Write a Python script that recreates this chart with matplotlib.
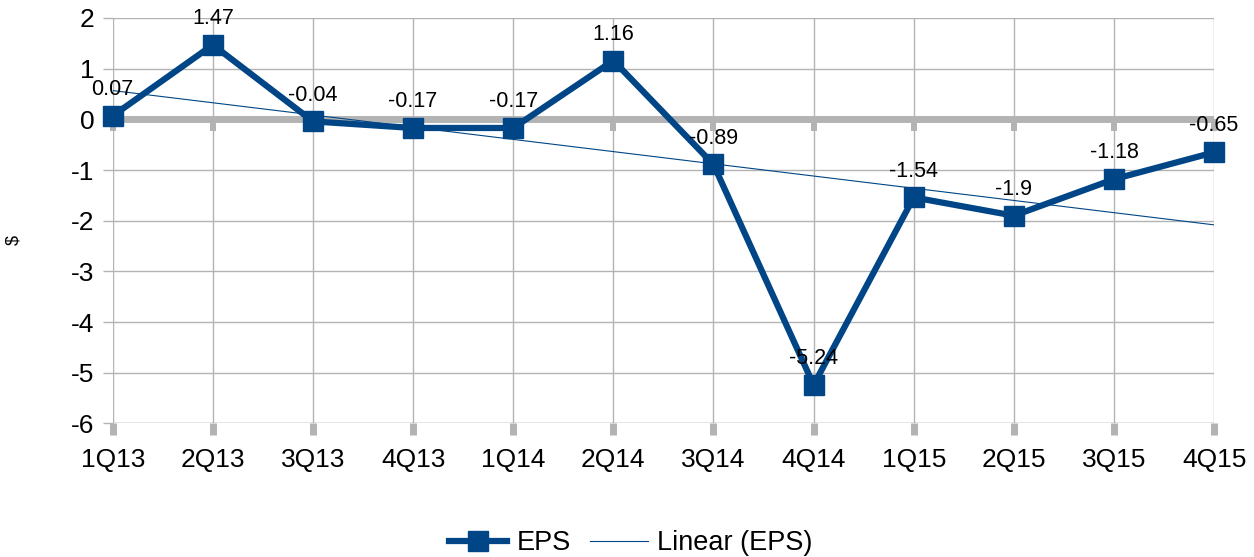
import numpy as np
import matplotlib
matplotlib.use("Agg")
import matplotlib.pyplot as plt
from matplotlib.lines import Line2D

quarters = ["1Q13", "2Q13", "3Q13", "4Q13", "1Q14", "2Q14",
            "3Q14", "4Q14", "1Q15", "2Q15", "3Q15", "4Q15"]
eps = [0.07, 1.47, -0.04, -0.17, -0.17, 1.16,
       -0.89, -5.24, -1.54, -1.9, -1.18, -0.65]
eps_labels = ["0.07", "1.47", "-0.04", "-0.17", "-0.17", "1.16",
              "-0.89", "-5.24", "-1.54", "-1.9", "-1.18", "-0.65"]
y_ticks = [2, 1, 0, -1, -2, -3, -4, -5, -6]

blue = "#004586"
grid_gray = "#b3b3b3"

plt.rcParams["font.family"] = ["Liberation Sans", "DejaVu Sans"]
plt.rcParams["axes.unicode_minus"] = False

fig = plt.figure(figsize=(12.54, 5.57), dpi=100)
ax = fig.add_axes([0.0899, 0.2397, 0.8783, 0.7280])

x = np.arange(len(quarters))
ax.set_xlim(0, len(quarters) - 1)
ax.set_ylim(-6, 2)
ax.set_xticks(x)
ax.set_xticklabels(quarters)
ax.set_yticks(y_ticks)

for s in ax.spines.values():
    s.set_visible(False)
ax.grid(True, color=grid_gray, linewidth=1)
ax.set_axisbelow(True)
ax.axhline(-6, color=grid_gray, linewidth=1, zorder=1)
ax.tick_params(axis="x", length=8.5, width=5, color=grid_gray, labelsize=19, pad=9)
ax.tick_params(axis="y", length=7.2, width=1, color=grid_gray, labelsize=19, pad=6)

# zero axis line with its own ticks below
ax.axhline(0, color=grid_gray, linewidth=5, zorder=2)
tick_marker = [(-0.29, 0), (0.29, 0), (0.29, -1), (-0.29, -1), (-0.29, 0)]
ax.plot(x, np.zeros(len(x)), linestyle="none", marker=tick_marker,
        markersize=17.3, markerfacecolor=grid_gray, markeredgewidth=0,
        zorder=2, clip_on=False)

# linear trend
slope, intercept = np.polyfit(x, eps, 1)
ax.plot(x, slope * x + intercept, color=blue, linewidth=0.8, zorder=3)

# EPS series
ax.plot(x, eps, color=blue, linewidth=4.5, marker="s", markersize=14.5,
        zorder=4, clip_on=False)

for xi, yi, lab in zip(x, eps, eps_labels):
    ax.annotate(lab, (xi, yi), xytext=(0, 19), textcoords="offset points",
                ha="center", va="center", fontsize=15.5, zorder=5,
                annotation_clip=False)

ax.set_ylabel("$", fontsize=13, rotation=90)
ax.yaxis.set_label_coords(-0.082, 0.4525)

handles = [
    Line2D([], [], color=blue, linewidth=4.5, marker="s", markersize=14.5),
    Line2D([], [], color=blue, linewidth=0.8),
]
fig.legend(handles, ["EPS", "Linear (EPS)"], loc="center",
           bbox_to_anchor=(0.503, 0.025), ncol=2, frameon=False, fontsize=19.5,
           handlelength=2.15, handletextpad=0.35, columnspacing=0.7)

fig.savefig("out.png", dpi=100)
